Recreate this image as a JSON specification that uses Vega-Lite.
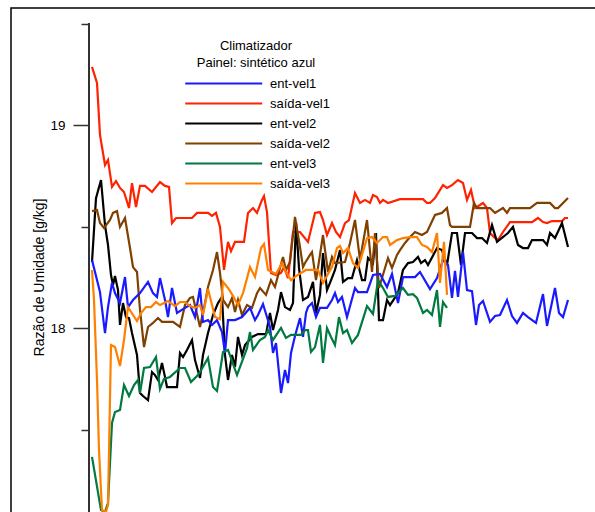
{
"$schema":"https://vega.github.io/schema/vega-lite/v6.json",
"autosize":{"type":"none"},
"padding":{"left":11,"top":8,"right":0,"bottom":0},
"width":600,"height":520,
"background":"white",
"config":{"view":{"stroke":"black","strokeWidth":1.5},"font":"Liberation Sans",
 "axisY":{"offset":-78,"domain":false,"grid":false,"format":".0f",
    "labelExpr":"datum.value == 18 || datum.value == 19 ? datum.label : ''",
    "tickSize":{"condition":{"test":"datum.value == 18 || datum.value == 19","value":16},"value":8},
    "tickColor":"#333333","tickWidth":1.5,"labelPadding":8,
    "labelFont":"Liberation Sans","labelFontSize":13.5,"labelColor":"black",
    "titleFont":"Liberation Sans","titleFontSize":14,"titleFontWeight":"normal","titleColor":"black",
    "titleX":-46,"titleY":269,"titleAlign":"center","titleBaseline":"alphabetic","titleAngle":270}},
"data":{"values":[
{"s":"saída-vel1","t":0,"v":19.286},{"s":"saída-vel1","t":5,"v":19.207},{"s":"saída-vel1","t":8,"v":18.951},{"s":"saída-vel1","t":13,"v":18.803},{"s":"saída-vel1","t":16,"v":18.828},{"s":"saída-vel1","t":20,"v":18.695},{"s":"saída-vel1","t":24,"v":18.724},{"s":"saída-vel1","t":28,"v":18.69},{"s":"saída-vel1","t":32,"v":18.67},{"s":"saída-vel1","t":37,"v":18.591},{"s":"saída-vel1","t":40,"v":18.714},{"s":"saída-vel1","t":44,"v":18.596},{"s":"saída-vel1","t":48,"v":18.7},{"s":"saída-vel1","t":53,"v":18.7},{"s":"saída-vel1","t":60,"v":18.67},{"s":"saída-vel1","t":68,"v":18.719},{"s":"saída-vel1","t":73,"v":18.7},{"s":"saída-vel1","t":77,"v":18.695},{"s":"saída-vel1","t":80,"v":18.517},{"s":"saída-vel1","t":84,"v":18.542},{"s":"saída-vel1","t":100,"v":18.542},{"s":"saída-vel1","t":105,"v":18.567},{"s":"saída-vel1","t":116,"v":18.567},{"s":"saída-vel1","t":120,"v":18.552},{"s":"saída-vel1","t":124,"v":18.567},{"s":"saída-vel1","t":128,"v":18.498},{"s":"saída-vel1","t":132,"v":18.286},{"s":"saída-vel1","t":136,"v":18.424},{"s":"saída-vel1","t":139,"v":18.379},{"s":"saída-vel1","t":143,"v":18.424},{"s":"saída-vel1","t":152,"v":18.424},{"s":"saída-vel1","t":156,"v":18.567},{"s":"saída-vel1","t":161,"v":18.591},{"s":"saída-vel1","t":165,"v":18.567},{"s":"saída-vel1","t":170,"v":18.631},{"s":"saída-vel1","t":172,"v":18.65},{"s":"saída-vel1","t":175,"v":18.571},{"s":"saída-vel1","t":179,"v":18.271},{"s":"saída-vel1","t":184,"v":18.261},{"s":"saída-vel1","t":189,"v":18.271},{"s":"saída-vel1","t":192,"v":18.3},{"s":"saída-vel1","t":196,"v":18.246},{"s":"saída-vel1","t":201,"v":18.473},{"s":"saída-vel1","t":208,"v":18.473},{"s":"saída-vel1","t":216,"v":18.424},{"s":"saída-vel1","t":223,"v":18.567},{"s":"saída-vel1","t":228,"v":18.571},{"s":"saída-vel1","t":231,"v":18.532},{"s":"saída-vel1","t":235,"v":18.458},{"s":"saída-vel1","t":240,"v":18.517},{"s":"saída-vel1","t":244,"v":18.473},{"s":"saída-vel1","t":248,"v":18.448},{"s":"saída-vel1","t":253,"v":18.517},{"s":"saída-vel1","t":257,"v":18.532},{"s":"saída-vel1","t":263,"v":18.665},{"s":"saída-vel1","t":268,"v":18.616},{"s":"saída-vel1","t":273,"v":18.631},{"s":"saída-vel1","t":278,"v":18.616},{"s":"saída-vel1","t":281,"v":18.655},{"s":"saída-vel1","t":285,"v":18.645},{"s":"saída-vel1","t":288,"v":18.616},{"s":"saída-vel1","t":291,"v":18.631},{"s":"saída-vel1","t":296,"v":18.616},{"s":"saída-vel1","t":308,"v":18.635},{"s":"saída-vel1","t":331,"v":18.635},{"s":"saída-vel1","t":335,"v":18.616},{"s":"saída-vel1","t":338,"v":18.616},{"s":"saída-vel1","t":343,"v":18.64},{"s":"saída-vel1","t":351,"v":18.704},{"s":"saída-vel1","t":355,"v":18.69},{"s":"saída-vel1","t":360,"v":18.704},{"s":"saída-vel1","t":366,"v":18.729},{"s":"saída-vel1","t":371,"v":18.714},{"s":"saída-vel1","t":375,"v":18.631},{"s":"saída-vel1","t":379,"v":18.68},{"s":"saída-vel1","t":383,"v":18.591},{"s":"saída-vel1","t":388,"v":18.606},{"s":"saída-vel1","t":391,"v":18.616},{"s":"saída-vel1","t":395,"v":18.591},{"s":"saída-vel1","t":398,"v":18.468},{"s":"saída-vel1","t":402,"v":18.448},{"s":"saída-vel1","t":406,"v":18.433},{"s":"saída-vel1","t":411,"v":18.473},{"s":"saída-vel1","t":418,"v":18.522},{"s":"saída-vel1","t":440,"v":18.522},{"s":"saída-vel1","t":446,"v":18.542},{"s":"saída-vel1","t":451,"v":18.522},{"s":"saída-vel1","t":455,"v":18.517},{"s":"saída-vel1","t":460,"v":18.527},{"s":"saída-vel1","t":470,"v":18.527},{"s":"saída-vel1","t":473,"v":18.542},{"s":"saída-vel1","t":476,"v":18.542},

{"s":"ent-vel2","t":0,"v":18.325},{"s":"ent-vel2","t":4,"v":18.64},{"s":"ent-vel2","t":9,"v":18.729},{"s":"ent-vel2","t":13,"v":18.507},{"s":"ent-vel2","t":16,"v":18.409},{"s":"ent-vel2","t":19,"v":18.261},{"s":"ent-vel2","t":21,"v":18.212},{"s":"ent-vel2","t":23,"v":18.256},{"s":"ent-vel2","t":26,"v":18.187},{"s":"ent-vel2","t":28,"v":18.015},{"s":"ent-vel2","t":31,"v":18.123},{"s":"ent-vel2","t":34,"v":18.054},{"s":"ent-vel2","t":37,"v":18.049},{"s":"ent-vel2","t":40,"v":17.975},{"s":"ent-vel2","t":45,"v":17.867},{"s":"ent-vel2","t":48,"v":17.68},{"s":"ent-vel2","t":51,"v":17.665},{"s":"ent-vel2","t":56,"v":17.645},{"s":"ent-vel2","t":60,"v":17.783},{"s":"ent-vel2","t":63,"v":17.768},{"s":"ent-vel2","t":66,"v":17.744},{"s":"ent-vel2","t":70,"v":17.828},{"s":"ent-vel2","t":73,"v":17.759},{"s":"ent-vel2","t":75,"v":17.709},{"s":"ent-vel2","t":85,"v":17.709},{"s":"ent-vel2","t":88,"v":17.877},{"s":"ent-vel2","t":91,"v":17.857},{"s":"ent-vel2","t":95,"v":17.892},{"s":"ent-vel2","t":100,"v":17.941},{"s":"ent-vel2","t":103,"v":17.842},{"s":"ent-vel2","t":108,"v":17.754},{"s":"ent-vel2","t":111,"v":17.867},{"s":"ent-vel2","t":116,"v":17.975},{"s":"ent-vel2","t":121,"v":18.064},{"s":"ent-vel2","t":126,"v":18.123},{"s":"ent-vel2","t":130,"v":18.153},{"s":"ent-vel2","t":133,"v":17.867},{"s":"ent-vel2","t":136,"v":17.744},{"s":"ent-vel2","t":140,"v":17.867},{"s":"ent-vel2","t":143,"v":17.808},{"s":"ent-vel2","t":146,"v":17.956},{"s":"ent-vel2","t":150,"v":17.867},{"s":"ent-vel2","t":153,"v":17.916},{"s":"ent-vel2","t":160,"v":17.956},{"s":"ent-vel2","t":166,"v":17.97},{"s":"ent-vel2","t":174,"v":17.97},{"s":"ent-vel2","t":178,"v":18.074},{"s":"ent-vel2","t":181,"v":17.99},{"s":"ent-vel2","t":186,"v":18.089},{"s":"ent-vel2","t":189,"v":18.177},{"s":"ent-vel2","t":193,"v":18.103},{"s":"ent-vel2","t":198,"v":18.089},{"s":"ent-vel2","t":201,"v":18.123},{"s":"ent-vel2","t":204,"v":18.522},{"s":"ent-vel2","t":207,"v":18.296},{"s":"ent-vel2","t":211,"v":18.138},{"s":"ent-vel2","t":216,"v":18.153},{"s":"ent-vel2","t":221,"v":18.227},{"s":"ent-vel2","t":224,"v":18.074},{"s":"ent-vel2","t":228,"v":18.163},{"s":"ent-vel2","t":231,"v":18.369},{"s":"ent-vel2","t":235,"v":18.187},{"s":"ent-vel2","t":238,"v":18.222},{"s":"ent-vel2","t":243,"v":18.286},{"s":"ent-vel2","t":248,"v":18.384},{"s":"ent-vel2","t":251,"v":18.227},{"s":"ent-vel2","t":256,"v":18.246},{"s":"ent-vel2","t":260,"v":18.246},{"s":"ent-vel2","t":265,"v":18.335},{"s":"ent-vel2","t":270,"v":18.236},{"s":"ent-vel2","t":273,"v":18.236},{"s":"ent-vel2","t":276,"v":18.345},{"s":"ent-vel2","t":281,"v":18.32},{"s":"ent-vel2","t":284,"v":18.468},{"s":"ent-vel2","t":287,"v":18.039},{"s":"ent-vel2","t":291,"v":18.039},{"s":"ent-vel2","t":295,"v":18.138},{"s":"ent-vel2","t":298,"v":18.113},{"s":"ent-vel2","t":306,"v":18.172},{"s":"ent-vel2","t":311,"v":18.286},{"s":"ent-vel2","t":316,"v":18.32},{"s":"ent-vel2","t":321,"v":18.325},{"s":"ent-vel2","t":326,"v":18.35},{"s":"ent-vel2","t":329,"v":18.32},{"s":"ent-vel2","t":333,"v":18.335},{"s":"ent-vel2","t":336,"v":18.31},{"s":"ent-vel2","t":345,"v":18.394},{"s":"ent-vel2","t":350,"v":18.384},{"s":"ent-vel2","t":355,"v":18.31},{"s":"ent-vel2","t":360,"v":18.468},{"s":"ent-vel2","t":365,"v":18.468},{"s":"ent-vel2","t":369,"v":18.31},{"s":"ent-vel2","t":373,"v":18.468},{"s":"ent-vel2","t":380,"v":18.468},{"s":"ent-vel2","t":385,"v":18.443},{"s":"ent-vel2","t":390,"v":18.443},{"s":"ent-vel2","t":395,"v":18.419},{"s":"ent-vel2","t":400,"v":18.507},{"s":"ent-vel2","t":405,"v":18.424},{"s":"ent-vel2","t":416,"v":18.468},{"s":"ent-vel2","t":421,"v":18.498},{"s":"ent-vel2","t":426,"v":18.409},{"s":"ent-vel2","t":431,"v":18.394},{"s":"ent-vel2","t":436,"v":18.394},{"s":"ent-vel2","t":440,"v":18.433},{"s":"ent-vel2","t":451,"v":18.433},{"s":"ent-vel2","t":455,"v":18.409},{"s":"ent-vel2","t":458,"v":18.468},{"s":"ent-vel2","t":463,"v":18.443},{"s":"ent-vel2","t":470,"v":18.517},{"s":"ent-vel2","t":476,"v":18.399},

{"s":"saída-vel2","t":0,"v":18.576},{"s":"saída-vel2","t":5,"v":18.581},{"s":"saída-vel2","t":8,"v":18.517},{"s":"saída-vel2","t":12,"v":18.493},{"s":"saída-vel2","t":18,"v":18.532},{"s":"saída-vel2","t":21,"v":18.567},{"s":"saída-vel2","t":25,"v":18.576},{"s":"saída-vel2","t":28,"v":18.498},{"s":"saída-vel2","t":33,"v":18.542},{"s":"saída-vel2","t":38,"v":18.394},{"s":"saída-vel2","t":41,"v":18.3},{"s":"saída-vel2","t":45,"v":18.276},{"s":"saída-vel2","t":48,"v":18.089},{"s":"saída-vel2","t":52,"v":17.906},{"s":"saída-vel2","t":56,"v":18.005},{"s":"saída-vel2","t":61,"v":18.025},{"s":"saída-vel2","t":66,"v":18.049},{"s":"saída-vel2","t":70,"v":18.03},{"s":"saída-vel2","t":81,"v":18.03},{"s":"saída-vel2","t":88,"v":18.005},{"s":"saída-vel2","t":93,"v":18.113},{"s":"saída-vel2","t":98,"v":18.148},{"s":"saída-vel2","t":101,"v":18.153},{"s":"saída-vel2","t":108,"v":18.005},{"s":"saída-vel2","t":113,"v":18.123},{"s":"saída-vel2","t":116,"v":18.202},{"s":"saída-vel2","t":121,"v":18.286},{"s":"saída-vel2","t":125,"v":18.374},{"s":"saída-vel2","t":128,"v":18.271},{"s":"saída-vel2","t":131,"v":18.138},{"s":"saída-vel2","t":136,"v":18.103},{"s":"saída-vel2","t":140,"v":18.148},{"s":"saída-vel2","t":143,"v":18.079},{"s":"saída-vel2","t":146,"v":18.138},{"s":"saída-vel2","t":150,"v":18.064},{"s":"saída-vel2","t":155,"v":18.113},{"s":"saída-vel2","t":160,"v":18.099},{"s":"saída-vel2","t":165,"v":18.172},{"s":"saída-vel2","t":168,"v":18.197},{"s":"saída-vel2","t":174,"v":18.163},{"s":"saída-vel2","t":179,"v":18.236},{"s":"saída-vel2","t":183,"v":18.202},{"s":"saída-vel2","t":188,"v":18.296},{"s":"saída-vel2","t":191,"v":18.35},{"s":"saída-vel2","t":194,"v":18.286},{"s":"saída-vel2","t":198,"v":18.325},{"s":"saída-vel2","t":203,"v":18.547},{"s":"saída-vel2","t":208,"v":18.399},{"s":"saída-vel2","t":211,"v":18.3},{"s":"saída-vel2","t":213,"v":18.32},{"s":"saída-vel2","t":218,"v":18.36},{"s":"saída-vel2","t":220,"v":18.374},{"s":"saída-vel2","t":224,"v":18.236},{"s":"saída-vel2","t":226,"v":18.296},{"s":"saída-vel2","t":231,"v":18.458},{"s":"saída-vel2","t":236,"v":18.276},{"s":"saída-vel2","t":240,"v":18.35},{"s":"saída-vel2","t":243,"v":18.32},{"s":"saída-vel2","t":253,"v":18.325},{"s":"saída-vel2","t":258,"v":18.419},{"s":"saída-vel2","t":263,"v":18.532},{"s":"saída-vel2","t":268,"v":18.335},{"s":"saída-vel2","t":275,"v":18.532},{"s":"saída-vel2","t":280,"v":18.276},{"s":"saída-vel2","t":283,"v":18.468},{"s":"saída-vel2","t":287,"v":18.197},{"s":"saída-vel2","t":296,"v":18.345},{"s":"saída-vel2","t":300,"v":18.296},{"s":"saída-vel2","t":305,"v":18.36},{"s":"saída-vel2","t":308,"v":18.384},{"s":"saída-vel2","t":313,"v":18.419},{"s":"saída-vel2","t":318,"v":18.448},{"s":"saída-vel2","t":323,"v":18.473},{"s":"saída-vel2","t":330,"v":18.458},{"s":"saída-vel2","t":335,"v":18.473},{"s":"saída-vel2","t":343,"v":18.557},{"s":"saída-vel2","t":350,"v":18.567},{"s":"saída-vel2","t":355,"v":18.591},{"s":"saída-vel2","t":358,"v":18.507},{"s":"saída-vel2","t":360,"v":18.498},{"s":"saída-vel2","t":378,"v":18.498},{"s":"saída-vel2","t":382,"v":18.616},{"s":"saída-vel2","t":385,"v":18.591},{"s":"saída-vel2","t":398,"v":18.591},{"s":"saída-vel2","t":403,"v":18.567},{"s":"saída-vel2","t":411,"v":18.591},{"s":"saída-vel2","t":415,"v":18.567},{"s":"saída-vel2","t":418,"v":18.591},{"s":"saída-vel2","t":438,"v":18.591},{"s":"saída-vel2","t":445,"v":18.616},{"s":"saída-vel2","t":458,"v":18.616},{"s":"saída-vel2","t":463,"v":18.591},{"s":"saída-vel2","t":466,"v":18.591},{"s":"saída-vel2","t":476,"v":18.64},

{"s":"ent-vel1","t":0,"v":18.335},{"s":"ent-vel1","t":5,"v":18.236},{"s":"ent-vel1","t":8,"v":18.177},{"s":"ent-vel1","t":13,"v":17.975},{"s":"ent-vel1","t":16,"v":18.103},{"s":"ent-vel1","t":20,"v":18.222},{"s":"ent-vel1","t":23,"v":18.172},{"s":"ent-vel1","t":28,"v":18.123},{"s":"ent-vel1","t":33,"v":18.251},{"s":"ent-vel1","t":36,"v":18.103},{"s":"ent-vel1","t":41,"v":18.138},{"s":"ent-vel1","t":48,"v":18.172},{"s":"ent-vel1","t":56,"v":18.227},{"s":"ent-vel1","t":61,"v":18.172},{"s":"ent-vel1","t":65,"v":18.153},{"s":"ent-vel1","t":68,"v":18.246},{"s":"ent-vel1","t":73,"v":18.138},{"s":"ent-vel1","t":76,"v":18.054},{"s":"ent-vel1","t":80,"v":18.197},{"s":"ent-vel1","t":85,"v":18.074},{"s":"ent-vel1","t":93,"v":18.099},{"s":"ent-vel1","t":98,"v":18.113},{"s":"ent-vel1","t":103,"v":18.054},{"s":"ent-vel1","t":108,"v":18.197},{"s":"ent-vel1","t":111,"v":18.03},{"s":"ent-vel1","t":116,"v":18.039},{"s":"ent-vel1","t":120,"v":18.015},{"s":"ent-vel1","t":125,"v":18.039},{"s":"ent-vel1","t":130,"v":17.98},{"s":"ent-vel1","t":133,"v":17.877},{"s":"ent-vel1","t":136,"v":18.039},{"s":"ent-vel1","t":143,"v":18.039},{"s":"ent-vel1","t":150,"v":18.054},{"s":"ent-vel1","t":158,"v":18.099},{"s":"ent-vel1","t":163,"v":18.039},{"s":"ent-vel1","t":166,"v":18.064},{"s":"ent-vel1","t":171,"v":18.118},{"s":"ent-vel1","t":178,"v":18.005},{"s":"ent-vel1","t":181,"v":17.877},{"s":"ent-vel1","t":184,"v":17.926},{"s":"ent-vel1","t":189,"v":17.68},{"s":"ent-vel1","t":193,"v":17.793},{"s":"ent-vel1","t":196,"v":17.729},{"s":"ent-vel1","t":199,"v":17.877},{"s":"ent-vel1","t":203,"v":17.961},{"s":"ent-vel1","t":208,"v":18.049},{"s":"ent-vel1","t":211,"v":17.956},{"s":"ent-vel1","t":214,"v":18.074},{"s":"ent-vel1","t":216,"v":18.103},{"s":"ent-vel1","t":220,"v":18.123},{"s":"ent-vel1","t":224,"v":18.054},{"s":"ent-vel1","t":228,"v":18.099},{"s":"ent-vel1","t":235,"v":18.099},{"s":"ent-vel1","t":240,"v":18.138},{"s":"ent-vel1","t":243,"v":18.172},{"s":"ent-vel1","t":246,"v":18.128},{"s":"ent-vel1","t":250,"v":18.153},{"s":"ent-vel1","t":255,"v":18.054},{"s":"ent-vel1","t":263,"v":18.197},{"s":"ent-vel1","t":266,"v":18.177},{"s":"ent-vel1","t":275,"v":18.177},{"s":"ent-vel1","t":281,"v":18.261},{"s":"ent-vel1","t":288,"v":18.266},{"s":"ent-vel1","t":295,"v":18.202},{"s":"ent-vel1","t":300,"v":18.266},{"s":"ent-vel1","t":306,"v":18.123},{"s":"ent-vel1","t":311,"v":18.251},{"s":"ent-vel1","t":323,"v":18.251},{"s":"ent-vel1","t":328,"v":18.276},{"s":"ent-vel1","t":338,"v":18.192},{"s":"ent-vel1","t":345,"v":18.246},{"s":"ent-vel1","t":351,"v":18.335},{"s":"ent-vel1","t":356,"v":18.31},{"s":"ent-vel1","t":360,"v":18.148},{"s":"ent-vel1","t":363,"v":18.281},{"s":"ent-vel1","t":366,"v":18.153},{"s":"ent-vel1","t":371,"v":18.374},{"s":"ent-vel1","t":375,"v":18.187},{"s":"ent-vel1","t":380,"v":18.182},{"s":"ent-vel1","t":384,"v":18.015},{"s":"ent-vel1","t":387,"v":18.113},{"s":"ent-vel1","t":391,"v":18.133},{"s":"ent-vel1","t":398,"v":18.03},{"s":"ent-vel1","t":403,"v":18.059},{"s":"ent-vel1","t":408,"v":18.064},{"s":"ent-vel1","t":415,"v":18.138},{"s":"ent-vel1","t":420,"v":18.059},{"s":"ent-vel1","t":425,"v":18.025},{"s":"ent-vel1","t":431,"v":18.074},{"s":"ent-vel1","t":436,"v":18.054},{"s":"ent-vel1","t":444,"v":18.025},{"s":"ent-vel1","t":451,"v":18.167},{"s":"ent-vel1","t":455,"v":18.01},{"s":"ent-vel1","t":463,"v":18.197},{"s":"ent-vel1","t":467,"v":18.074},{"s":"ent-vel1","t":471,"v":18.054},{"s":"ent-vel1","t":476,"v":18.138},

{"s":"ent-vel3","t":0,"v":17.365},{"s":"ent-vel3","t":9,"v":17.103},{"s":"ent-vel3","t":13,"v":17.094},{"s":"ent-vel3","t":16,"v":17.138},{"s":"ent-vel3","t":20,"v":17.532},{"s":"ent-vel3","t":23,"v":17.586},{"s":"ent-vel3","t":28,"v":17.596},{"s":"ent-vel3","t":32,"v":17.719},{"s":"ent-vel3","t":37,"v":17.665},{"s":"ent-vel3","t":42,"v":17.719},{"s":"ent-vel3","t":46,"v":17.744},{"s":"ent-vel3","t":48,"v":17.68},{"s":"ent-vel3","t":52,"v":17.803},{"s":"ent-vel3","t":58,"v":17.808},{"s":"ent-vel3","t":64,"v":17.857},{"s":"ent-vel3","t":68,"v":17.7},{"s":"ent-vel3","t":72,"v":17.749},{"s":"ent-vel3","t":78,"v":17.759},{"s":"ent-vel3","t":88,"v":17.803},{"s":"ent-vel3","t":93,"v":17.803},{"s":"ent-vel3","t":99,"v":17.734},{"s":"ent-vel3","t":105,"v":17.764},{"s":"ent-vel3","t":108,"v":17.783},{"s":"ent-vel3","t":116,"v":17.852},{"s":"ent-vel3","t":121,"v":17.709},{"s":"ent-vel3","t":125,"v":17.69},{"s":"ent-vel3","t":131,"v":17.882},{"s":"ent-vel3","t":136,"v":17.892},{"s":"ent-vel3","t":145,"v":17.768},{"s":"ent-vel3","t":155,"v":17.901},{"s":"ent-vel3","t":158,"v":17.98},{"s":"ent-vel3","t":161,"v":17.892},{"s":"ent-vel3","t":168,"v":17.941},{"s":"ent-vel3","t":173,"v":17.956},{"s":"ent-vel3","t":176,"v":17.99},{"s":"ent-vel3","t":181,"v":17.941},{"s":"ent-vel3","t":189,"v":18.0},{"s":"ent-vel3","t":194,"v":17.951},{"s":"ent-vel3","t":199,"v":17.966},{"s":"ent-vel3","t":209,"v":17.966},{"s":"ent-vel3","t":213,"v":17.99},{"s":"ent-vel3","t":216,"v":17.99},{"s":"ent-vel3","t":219,"v":17.882},{"s":"ent-vel3","t":223,"v":17.906},{"s":"ent-vel3","t":228,"v":18.015},{"s":"ent-vel3","t":231,"v":17.828},{"s":"ent-vel3","t":235,"v":18.0},{"s":"ent-vel3","t":239,"v":17.956},{"s":"ent-vel3","t":243,"v":17.916},{"s":"ent-vel3","t":247,"v":18.054},{"s":"ent-vel3","t":251,"v":17.975},{"s":"ent-vel3","t":255,"v":17.99},{"s":"ent-vel3","t":260,"v":17.926},{"s":"ent-vel3","t":266,"v":17.966},{"s":"ent-vel3","t":275,"v":18.108},{"s":"ent-vel3","t":281,"v":18.069},{"s":"ent-vel3","t":286,"v":18.236},{"s":"ent-vel3","t":291,"v":18.197},{"s":"ent-vel3","t":296,"v":18.153},{"s":"ent-vel3","t":303,"v":18.158},{"s":"ent-vel3","t":311,"v":18.197},{"s":"ent-vel3","t":316,"v":18.163},{"s":"ent-vel3","t":321,"v":18.167},{"s":"ent-vel3","t":325,"v":18.148},{"s":"ent-vel3","t":331,"v":18.074},{"s":"ent-vel3","t":335,"v":18.089},{"s":"ent-vel3","t":340,"v":18.064},{"s":"ent-vel3","t":345,"v":18.187},{"s":"ent-vel3","t":348,"v":18.005},{"s":"ent-vel3","t":351,"v":18.128},{"s":"ent-vel3","t":355,"v":18.099},

{"s":"saída-vel3","t":0,"v":18.286},{"s":"saída-vel3","t":2,"v":18.138},{"s":"saída-vel3","t":5,"v":17.744},{"s":"saída-vel3","t":7,"v":17.399},{"s":"saída-vel3","t":10,"v":17.103},{"s":"saída-vel3","t":14,"v":17.094},{"s":"saída-vel3","t":16,"v":17.128},{"s":"saída-vel3","t":19,"v":17.916},{"s":"saída-vel3","t":23,"v":17.906},{"s":"saída-vel3","t":28,"v":17.813},{"s":"saída-vel3","t":32,"v":17.941},{"s":"saída-vel3","t":36,"v":18.103},{"s":"saída-vel3","t":41,"v":18.064},{"s":"saída-vel3","t":45,"v":18.034},{"s":"saída-vel3","t":49,"v":18.074},{"s":"saída-vel3","t":54,"v":18.103},{"s":"saída-vel3","t":59,"v":18.103},{"s":"saída-vel3","t":64,"v":18.128},{"s":"saída-vel3","t":68,"v":18.113},{"s":"saída-vel3","t":76,"v":18.133},{"s":"saída-vel3","t":83,"v":18.108},{"s":"saída-vel3","t":88,"v":18.128},{"s":"saída-vel3","t":93,"v":18.128},{"s":"saída-vel3","t":98,"v":18.108},{"s":"saída-vel3","t":103,"v":18.099},{"s":"saída-vel3","t":108,"v":18.113},{"s":"saída-vel3","t":111,"v":18.064},{"s":"saída-vel3","t":116,"v":18.192},{"s":"saída-vel3","t":123,"v":18.054},{"s":"saída-vel3","t":128,"v":18.044},{"s":"saída-vel3","t":131,"v":18.227},{"s":"saída-vel3","t":136,"v":18.197},{"s":"saída-vel3","t":141,"v":18.158},{"s":"saída-vel3","t":146,"v":18.113},{"s":"saída-vel3","t":151,"v":18.172},{"s":"saída-vel3","t":158,"v":18.3},{"s":"saída-vel3","t":163,"v":18.251},{"s":"saída-vel3","t":169,"v":18.394},{"s":"saída-vel3","t":172,"v":18.414},{"s":"saída-vel3","t":176,"v":18.286},{"s":"saída-vel3","t":180,"v":18.276},{"s":"saída-vel3","t":184,"v":18.266},{"s":"saída-vel3","t":190,"v":18.32},{"s":"saída-vel3","t":194,"v":18.276},{"s":"saída-vel3","t":199,"v":18.236},{"s":"saída-vel3","t":204,"v":18.256},{"s":"saída-vel3","t":209,"v":18.271},{"s":"saída-vel3","t":214,"v":18.286},{"s":"saída-vel3","t":226,"v":18.286},{"s":"saída-vel3","t":231,"v":18.222},{"s":"saída-vel3","t":236,"v":18.266},{"s":"saída-vel3","t":240,"v":18.3},{"s":"saída-vel3","t":245,"v":18.394},{"s":"saída-vel3","t":248,"v":18.404},{"s":"saída-vel3","t":251,"v":18.369},{"s":"saída-vel3","t":256,"v":18.394},{"s":"saída-vel3","t":261,"v":18.32},{"s":"saída-vel3","t":266,"v":18.296},{"s":"saída-vel3","t":270,"v":18.36},{"s":"saída-vel3","t":275,"v":18.443},{"s":"saída-vel3","t":280,"v":18.448},{"s":"saída-vel3","t":285,"v":18.419},{"s":"saída-vel3","t":291,"v":18.448},{"s":"saída-vel3","t":295,"v":18.448},{"s":"saída-vel3","t":298,"v":18.409},{"s":"saída-vel3","t":305,"v":18.433},{"s":"saída-vel3","t":311,"v":18.443},{"s":"saída-vel3","t":318,"v":18.448},{"s":"saída-vel3","t":325,"v":18.448},{"s":"saída-vel3","t":330,"v":18.409},{"s":"saída-vel3","t":335,"v":18.399},{"s":"saída-vel3","t":340,"v":18.374},{"s":"saída-vel3","t":345,"v":18.468},{"s":"saída-vel3","t":348,"v":18.222},{"s":"saída-vel3","t":352,"v":18.424},{"s":"saída-vel3","t":355,"v":18.163}
]},
"layer":[
{"mark":{"type":"rule","color":"#333333","strokeWidth":1.5},
 "encoding":{"x":{"datum":-3,"type":"quantitative","axis":null},"y":{"datum":19.5,"type":"quantitative","title":"Razão de Umidade [g/kg]","axis":{"values":[17.5,18,18.5,19,19.5]}},"y2":{"datum":17.0}}},
{"mark":{"type":"line","strokeWidth":2.2,"clip":true},
"encoding":{
  "x":{"field":"t","type":"quantitative","scale":{"domain":[-81,519],"nice":false,"zero":false},"axis":null},
  "y":{"field":"v","type":"quantitative","title":"Razão de Umidade [g/kg]","axis":{"values":[17.5,18,18.5,19,19.5]},"scale":{"domain":[17.0148,19.5764],"nice":false,"zero":false}},
  "color":{"field":"s","type":"nominal",
   "scale":{"domain":["ent-vel1","saída-vel1","ent-vel2","saída-vel2","ent-vel3","saída-vel3"],
    "range":["#1a1aff","#ff2200","#000000","#804000","#007a40","#ff8000"]},
   "legend":{"orient":"none","legendX":172,"legendY":32,"padding":0,"offset":0,
    "title":["Climatizador","Painel: sintético azul"],
    "titleFont":"Liberation Sans","titleFontSize":13,"titleFontWeight":"normal","titleColor":"black",
    "titleAnchor":"middle","titleAlign":"center","titleLineHeight":17,"titlePadding":4,
    "symbolType":"M-0.91,0H8.71","symbolSize":256,"symbolStrokeWidth":2.2,
    "labelFont":"Liberation Sans","labelFontSize":13,"labelColor":"black","labelOffset":68,"rowPadding":3}}
}}
]
}
